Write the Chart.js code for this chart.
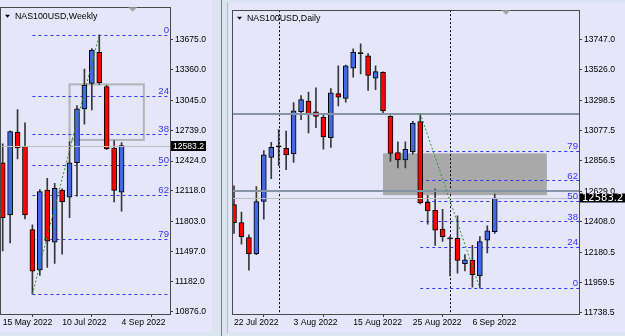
<!DOCTYPE html>
<html>
<head>
<meta charset="utf-8">
<script src="https://cdn.jsdelivr.net/npm/chart.js@4.4.0/dist/chart.umd.min.js"></script>
<style>
html, body { margin: 0; padding: 0; width: 625px; height: 336px; overflow: hidden; background: #dbe5f1; }
#wkBox { position: absolute; left: 0; top: 0; width: 212px; height: 332px; background: #e6e6fa; }
#dyBox { position: absolute; left: 229px; top: 3px; width: 396px; height: 329px; background: #e6e6fa; }
#split { position: absolute; left: 221px; top: 0; width: 1px; height: 336px; background: #7b7b7b; }
#dyEdge { position: absolute; left: 227px; top: 2px; width: 1px; height: 331px; background: #b8bfc9; }
</style>
</head>
<body>
<div id="wkBox"><canvas id="weekly" width="212" height="332"></canvas></div>
<div id="split"></div>
<div id="dyEdge"></div>
<div id="dyBox"><canvas id="daily" width="396" height="329"></canvas></div>
<script>
// ---- weekly NAS100USD ----
const weeklyDates = ['15 May 2022', '22 May 2022', '29 May 2022', '5 Jun 2022', '12 Jun 2022', '19 Jun 2022',
    '26 Jun 2022', '3 Jul 2022', '10 Jul 2022', '17 Jul 2022', '24 Jul 2022', '31 Jul 2022', '7 Aug 2022',
    '14 Aug 2022', '21 Aug 2022', '28 Aug 2022', '4 Sep 2022'];
const weeklyOpen  = [12407, 11870, 12719, 12575, 11719, 11306, 12125, 11591, 12125, 12054, 12407, 12960, 13222, 13541, 13189, 12558, 12105];
const weeklyHigh  = [12601, 12735, 12954, 12816, 11769, 12132, 12246, 12195, 12138, 12625, 12994, 13370, 13580, 13720, 13202, 12635, 12615];
const weeklyLow   = [11500, 11584, 12447, 11830, 11057, 11249, 11332, 11372, 11467, 11843, 12064, 12802, 12950, 13212, 12541, 12004, 11910];
const weeklyClose = [11843, 12726, 12558, 11870, 11292, 12111, 11601, 12145, 12004, 12407, 12960, 13202, 13565, 13229, 12551, 12122, 12583.2];
const weeklyTickDates = ['15 May 2022', '10 Jul 2022', '4 Sep 2022'];
const weeklyTicks = [13675.0, 13360.0, 13045.0, 12739.0, 12424.0, 12118.0, 11803.0, 11497.0, 11182.0, 10876.0];
const weeklyFibDates = ['12 Jun 2022', '14 Aug 2022'];
const weeklyFibPrices = [11057, 13720];
const weeklyBoxIdx = [9, 19];
const weeklyBoxPrices = [13212, 12641];

// ---- daily NAS100USD ----
const dailyDates = ['22 Jul 2022', '25 Jul 2022', '26 Jul 2022', '27 Jul 2022', '28 Jul 2022', '29 Jul 2022',
    '1 Aug 2022', '2 Aug 2022', '3 Aug 2022', '4 Aug 2022', '5 Aug 2022', '8 Aug 2022', '9 Aug 2022',
    '10 Aug 2022', '11 Aug 2022', '12 Aug 2022', '15 Aug 2022', '16 Aug 2022', '17 Aug 2022', '18 Aug 2022',
    '19 Aug 2022', '22 Aug 2022', '23 Aug 2022', '24 Aug 2022', '25 Aug 2022', '26 Aug 2022', '29 Aug 2022',
    '30 Aug 2022', '31 Aug 2022', '1 Sep 2022', '2 Sep 2022', '5 Sep 2022', '6 Sep 2022', '7 Sep 2022',
    '8 Sep 2022', '9 Sep 2022'];
const dailyOpen  = [12535, 12402, 12292, 12171, 12557, 12881, 12960, 12948, 12907, 13218, 13297, 13218, 13177, 13028, 13352, 13316,
    13538, 13646, 13629, 13466, 13509, 13184, 12917, 12864, 12925, 13146, 12552, 12492, 12355, 12282, 12287, 12099,
    12126, 12010, 12272, 12335];
const dailyHigh  = [12672, 12480, 12311, 12667, 12932, 12992, 13086, 13076, 13285, 13338, 13362, 13394, 13201, 13389, 13557, 13562,
    13682, 13718, 13646, 13557, 13512, 13190, 12997, 12997, 13148, 13205, 12600, 12648, 12499, 12300, 12451, 12167,
    12234, 12299, 12378, 12612];
const dailyLow   = [12323, 12244, 12052, 12165, 12427, 12725, 12821, 12792, 12845, 13160, 13062, 13100, 12943, 12956, 13261, 13288,
    13473, 13497, 13376, 13381, 13206, 12853, 12804, 12804, 12905, 12539, 12391, 12234, 12263, 12010, 12030, 12047,
    11926, 11920, 12179, 12323];
const dailyClose = [12402, 12299, 12171, 12557, 12900, 12956, 12960, 12900, 13225, 13307, 13194, 13184, 13033, 13358, 13326, 13557,
    13658, 13646, 13485, 13513, 13225, 12912, 12864, 12941, 13134, 12547, 12487, 12347, 12299, 12282, 12124, 12128,
    12018, 12263, 12342, 12583.2];
const dailyTickDates = ['22 Jul 2022', '3 Aug 2022', '15 Aug 2022', '25 Aug 2022', '6 Sep 2022'];
const dailyTicks = [13747.0, 13526.0, 13298.5, 13077.5, 12856.5, 12629.0, 12408.0, 12180.5, 11959.5, 11738.5];
const dailySeparators = ['1 Aug 2022', '1 Sep 2022'];
const dailyFibDates = ['26 Aug 2022', '7 Sep 2022'];
const dailyFibPrices = [13205, 11920];
const dailyBoxIdx = [20, 42];
const dailyBoxPrices = [12912, 12604];
const dailyLevels = [13201, 12636];

const fibLevels = [0, 23.6, 38.2, 50, 61.8, 78.6, 100];
const fibLabels = ['0', '24', '38', '50', '62', '79', ''];

const FONT = '"Liberation Sans", Arial, sans-serif';
const UP = '#4169e1';
const DOWN = '#ff0000';
const FIB = '#3535ff';

function candleSets(o, h, l, c) {
    const colors = o.map((v, i) => c[i] > o[i] ? UP : (c[i] < o[i] ? DOWN : '#000'));
    return [
        {
            data: o.map((v, i) => ({ x: i, y: [o[i], c[i]] })),
            backgroundColor: colors,
            borderColor: '#000',
            borderWidth: 1,
            borderSkipped: false,
            barThickness: 5,
            minBarLength: 1,
            grouped: false,
            order: 0
        },
        {
            data: o.map((v, i) => ({ x: i, y: [l[i], h[i]] })),
            backgroundColor: '#383838',
            barThickness: 1,
            grouped: false,
            order: 1
        }
    ];
}

function overlay(p) {
    return {
        id: 'mt_' + p.name,
        beforeDatasetsDraw(chart) {
            const { ctx, chartArea: a, scales: { x, y } } = chart;
            ctx.save();
            ctx.beginPath();
            ctx.rect(a.left, a.top, a.right - a.left, a.bottom - a.top);
            ctx.clip();
            // rectangle object
            const rx1 = x.getPixelForValue(p.boxIdx[0]), rx2 = x.getPixelForValue(p.boxIdx[1]);
            const ry1 = y.getPixelForValue(p.boxPrices[0]), ry2 = y.getPixelForValue(p.boxPrices[1]);
            if (p.boxFill) {
                ctx.fillStyle = '#a9a9a9';
                ctx.fillRect(rx1, ry1, rx2 - rx1, ry2 - ry1);
            } else {
                ctx.strokeStyle = '#b4b4b4';
                ctx.lineWidth = 2;
                ctx.strokeRect(rx1, ry1, rx2 - rx1, ry2 - ry1);
            }
            // period separators
            ctx.strokeStyle = '#000';
            ctx.lineWidth = 1;
            ctx.setLineDash([2, 2]);
            (p.separators || []).forEach(d => {
                const px = Math.round(x.getPixelForValue(p.dates.indexOf(d))) + 0.5;
                ctx.beginPath();
                ctx.moveTo(px, a.top);
                ctx.lineTo(px, a.bottom);
                ctx.stroke();
            });
            // fibo levels
            const fx = x.getPixelForValue(p.dates.indexOf(p.fibDates[0]));
            ctx.strokeStyle = FIB;
            ctx.setLineDash([3, 3]);
            fibLevels.forEach(lv => {
                const price = p.fibPrices[1] + (p.fibPrices[0] - p.fibPrices[1]) * lv / 100;
                const py = Math.round(y.getPixelForValue(price)) + 0.5;
                ctx.beginPath();
                ctx.moveTo(fx, py);
                ctx.lineTo(a.right, py);
                ctx.stroke();
            });
            ctx.restore();
        },
        afterDatasetsDraw(chart) {
            const { ctx, chartArea: a, scales: { x, y } } = chart;
            ctx.save();
            ctx.beginPath();
            ctx.rect(a.left, a.top, a.right - a.left, a.bottom - a.top);
            ctx.clip();
            // bid line
            const last = p.close[p.close.length - 1];
            const by = Math.round(y.getPixelForValue(last)) + 0.5;
            ctx.strokeStyle = '#bdbdbd';
            ctx.lineWidth = 1;
            ctx.beginPath();
            ctx.moveTo(a.left, by);
            ctx.lineTo(a.right, by);
            ctx.stroke();
            // horizontal levels
            ctx.strokeStyle = '#8595a7';
            ctx.lineWidth = 2;
            (p.levels || []).forEach(v => {
                const py = Math.round(y.getPixelForValue(v));
                ctx.beginPath();
                ctx.moveTo(a.left, py);
                ctx.lineTo(a.right, py);
                ctx.stroke();
            });
            // fibo trend line
            ctx.strokeStyle = '#2f942f';
            ctx.lineWidth = 1;
            ctx.setLineDash([2, 2]);
            ctx.beginPath();
            ctx.moveTo(x.getPixelForValue(p.dates.indexOf(p.fibDates[0])), y.getPixelForValue(p.fibPrices[0]));
            ctx.lineTo(x.getPixelForValue(p.dates.indexOf(p.fibDates[1])), y.getPixelForValue(p.fibPrices[1]));
            ctx.stroke();
            ctx.setLineDash([]);
            // fibo labels
            ctx.font = '9.6px ' + FONT;
            ctx.fillStyle = FIB;
            ctx.textAlign = 'right';
            ctx.textBaseline = 'bottom';
            fibLevels.forEach((lv, i) => {
                const price = p.fibPrices[1] + (p.fibPrices[0] - p.fibPrices[1]) * lv / 100;
                ctx.fillText(fibLabels[i], a.right - 1, y.getPixelForValue(price) + 0.5);
            });
            ctx.restore();
        },
        afterDraw(chart) {
            const { ctx, chartArea: a, scales: { x, y } } = chart;
            ctx.save();
            // frame
            ctx.strokeStyle = '#4a4a4a';
            ctx.lineWidth = 1;
            ctx.strokeRect(Math.round(a.left) + 0.5, Math.round(a.top) + 0.5,
                Math.round(a.right - a.left), Math.round(a.bottom - a.top));
            // shift marker
            const sx = x.getPixelForValue(p.close.length + 0.5);
            ctx.fillStyle = '#a6a6a6';
            ctx.beginPath();
            ctx.moveTo(sx - 4.5, a.top);
            ctx.lineTo(sx + 4.5, a.top);
            ctx.lineTo(sx, a.top + 4.5);
            ctx.closePath();
            ctx.fill();
            // title
            const tx = a.left + p.titleX, ty = a.top + p.titleY;
            ctx.fillStyle = '#000';
            ctx.beginPath();
            ctx.moveTo(tx, ty - 1.5);
            ctx.lineTo(tx + 5, ty - 1.5);
            ctx.lineTo(tx + 2.5, ty + 1.5);
            ctx.closePath();
            ctx.fill();
            ctx.font = '8.8px ' + FONT;
            ctx.textAlign = 'left';
            ctx.textBaseline = 'middle';
            ctx.fillText(p.title, tx + 10, ty);
            // bid price label
            const last = p.close[p.close.length - 1];
            const py = y.getPixelForValue(last);
            ctx.fillStyle = '#000';
            ctx.fillRect(a.right + 1, Math.round(py) - p.tagH / 2, p.tagW, p.tagH);
            ctx.fillStyle = '#fff';
            ctx.font = p.tagFont;
            ctx.textBaseline = 'middle';
            ctx.fillText(last.toFixed(1), a.right + 3, Math.round(py) + 0.5);
            ctx.restore();
        }
    };
}

function makeChart(id, p) {
    const axisColor = '#3a3a3a';
    return new Chart(document.getElementById(id), {
        type: 'bar',
        data: { datasets: candleSets(p.open, p.high, p.low, p.close) },
        options: {
            responsive: false,
            animation: false,
            devicePixelRatio: 1,
            layout: { padding: p.padding, autoPadding: false },
            plugins: { legend: { display: false }, tooltip: { enabled: false } },
            scales: {
                x: {
                    type: 'linear',
                    min: p.xMin,
                    max: p.xMax,
                    offset: false,
                    afterBuildTicks: s => { s.ticks = p.tickDates.map(d => ({ value: p.dates.indexOf(d) })); },
                    afterFit: s => { s.height = p.xAxisH; },
                    grid: { display: true, drawOnChartArea: false, tickLength: 3, color: axisColor },
                    border: { display: true, color: axisColor },
                    ticks: {
                        autoSkip: false,
                        maxRotation: 0,
                        align: 'start',
                        padding: 0,
                        color: '#000',
                        font: { family: FONT, size: 8.6 },
                        callback: v => p.dates[v]
                    }
                },
                y: {
                    type: 'linear',
                    position: 'right',
                    min: p.yMin,
                    max: p.yMax,
                    afterBuildTicks: s => { s.ticks = p.yTicks.map(v => ({ value: v })); },
                    afterFit: s => { s.width = p.yAxisW; },
                    grid: { display: true, drawOnChartArea: false, tickLength: 3, color: axisColor },
                    border: { display: true, color: axisColor },
                    ticks: {
                        padding: 2,
                        color: '#000',
                        font: { family: FONT, size: 8.6 },
                        callback: v => v.toFixed(1)
                    }
                }
            }
        },
        plugins: [overlay(p)]
    });
}

makeChart('weekly', {
    name: 'w', title: 'NAS100USD,Weekly', titleX: 5, titleY: 9,
    dates: weeklyDates, open: weeklyOpen, high: weeklyHigh, low: weeklyLow, close: weeklyClose,
    tickDates: weeklyTickDates, yTicks: weeklyTicks,
    fibDates: weeklyFibDates, fibPrices: weeklyFibPrices,
    boxIdx: weeklyBoxIdx, boxPrices: weeklyBoxPrices, boxFill: false,
    xMin: -0.363, xMax: 22.52, yMin: 10853, yMax: 14005,
    padding: { left: 0, top: 1, right: 0, bottom: 0 }, xAxisH: 18, yAxisW: 42,
    tagW: 35, tagH: 10, tagFont: '8.6px ' + FONT
});

makeChart('daily', {
    name: 'd', title: 'NAS100USD,Daily', titleX: 5, titleY: 8,
    dates: dailyDates, open: dailyOpen, high: dailyHigh, low: dailyLow, close: dailyClose,
    tickDates: dailyTickDates, yTicks: dailyTicks, separators: dailySeparators,
    fibDates: dailyFibDates, fibPrices: dailyFibPrices, levels: dailyLevels,
    boxIdx: dailyBoxIdx, boxPrices: dailyBoxPrices, boxFill: true,
    xMin: -0.27, xMax: 46.31, yMin: 11729, yMax: 13966,
    padding: { left: 3, top: 1, right: 0, bottom: 0 }, xAxisH: 18, yAxisW: 46,
    tagW: 45, tagH: 9, tagFont: '10px "DejaVu Sans", sans-serif'
});
</script>
</body>
</html>
